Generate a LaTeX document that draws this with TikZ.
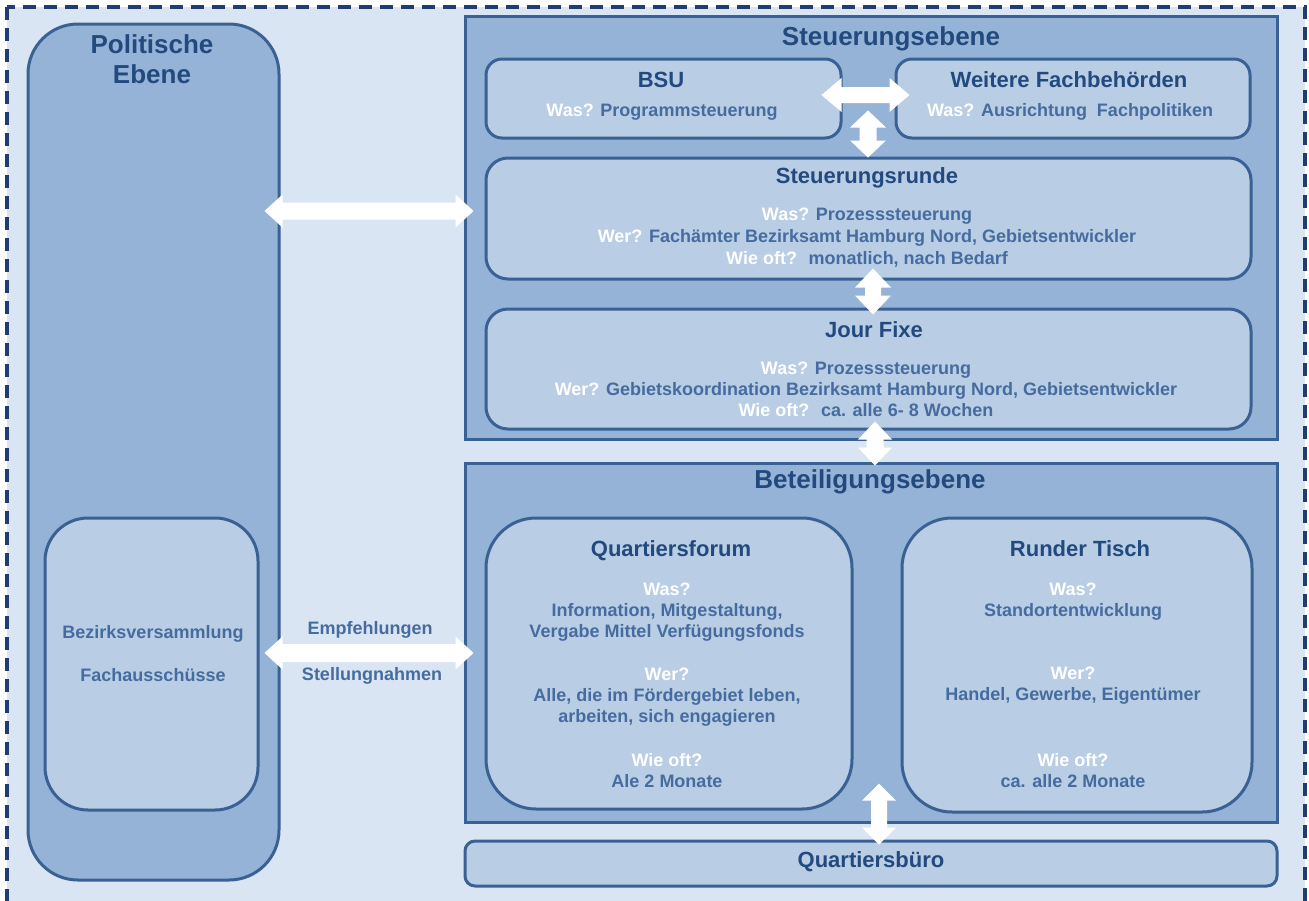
\documentclass[tikz,border=0pt]{standalone}
\usepackage{fontspec}
\setmainfont{Liberation Sans}
\usetikzlibrary{calc}
\definecolor{bgl}{HTML}{DAE5F3}
\definecolor{midb}{HTML}{95B3D7}
\definecolor{lightb}{HTML}{B9CDE5}
\definecolor{bordb}{HTML}{3A6194}
\definecolor{dashc}{HTML}{1F3D6E}
\definecolor{titlec}{HTML}{224A7E}
\definecolor{bodyc}{HTML}{466C9F}
\tikzset{
  outerbox/.style={draw=bordb, line width=3pt, fill=midb, inner sep=0pt},
  innerbox/.style={draw=bordb, line width=3pt, fill=lightb, inner sep=0pt},
  bigtitle/.style={font=\bfseries\fontsize{26}{30}\selectfont, text=titlec, inner sep=0pt, align=center},
  boxtitle/.style={font=\bfseries\fontsize{22}{25}\selectfont, text=titlec, inner sep=0pt, align=center},
  bodytxt/.style={font=\bfseries\fontsize{18}{21}\selectfont, text=bodyc, inner sep=0pt, align=center},
  blockarrow/.style={fill=white, draw=none},
}
\newcommand{\wq}[1]{\textcolor{white}{#1}}
% horizontal double block arrow: start, end, shaft half width, head half width, head length
\newcommand{\harrow}[5]{%
  \fill[blockarrow] (#1) -- ++(#5,#4) -- ++(0,#3-#4) -- ($(#2)+(-#5,#3)$) -- ++(0,#4-#3)
    -- (#2) -- ++(-#5,-#4) -- ++(0,#4-#3) -- ($(#1)+(#5,-#3)$) -- ++(0,#3-#4) -- cycle;}
% vertical double block arrow
\newcommand{\varrow}[5]{%
  \fill[blockarrow] (#1) -- ++(#4,#5) -- ++(#3-#4,0) -- ($(#2)+(#3,-#5)$) -- ++(#4-#3,0)
    -- (#2) -- ++(-#4,-#5) -- ++(#4-#3,0) -- ($(#1)+(-#3,#5)$) -- ++(#3-#4,0) -- cycle;}
\begin{document}
\begin{tikzpicture}[x=1pt,y=-1pt]
\useasboundingbox (0,0) rectangle (1309,900);
\clip (0,0) rectangle (1309,900);
\fill[white] (0,0) rectangle (1309,900);
% outer dashed frame
\draw[fill=bgl, draw=dashc, line width=4pt, dash pattern=on 13pt off 8pt] (7,7) rectangle (1305,960);

% Politische Ebene
\node[outerbox, rounded corners=50pt, minimum width=251pt, minimum height=856pt] (pol) at (153.5,452) {};
\node[bigtitle] (poltitle) at (152,59) {Politische\\Ebene};
\node[innerbox, rounded corners=43pt, minimum width=213pt, minimum height=292pt] (bez) at (151.5,664) {};
\node[bodytxt] (beztxt1) at (153,634) {Bezirksversammlung};
\node[bodytxt] (beztxt2) at (153,675) {Fachausschüsse};

% Steuerungsebene
\node[outerbox, minimum width=812pt, minimum height=423pt] (steu) at (871,227.5) {};
\node[bigtitle] (steutitle) at (891,39) {Steuerungsebene};
\node[innerbox, rounded corners=16pt, minimum width=355pt, minimum height=79pt] (bsu) at (663.5,98.5) {};
\node[boxtitle] (bsutitle) at (661,80) {BSU};
\node[bodytxt] (bsutxt) at (662,112) {\wq{Was?} Programmsteuerung};
\node[innerbox, rounded corners=16pt, minimum width=354pt, minimum height=79pt] (weit) at (1073,98.5) {};
\node[boxtitle] (weittitle) at (1069,80) {Weitere Fachbehörden};
\node[bodytxt] (weittxt) at (1070,112) {\wq{Was?} Ausrichtung~ Fachpolitiken};
\node[innerbox, rounded corners=22pt, minimum width=765pt, minimum height=121pt] (srunde) at (868.5,218.5) {};
\node[boxtitle] (sruntitle) at (867,178) {Steuerungsrunde};
\node[bodytxt, font=\bfseries\fontsize{18}{22}\selectfont] (sruntxt) at (867,238) {\wq{Was?} Prozesssteuerung\\
  \wq{Wer?} Fachämter Bezirksamt Hamburg Nord, Gebietsentwickler\\
  \wq{Wie oft?}~ monatlich, nach Bedarf};
\node[innerbox, rounded corners=22pt, minimum width=765pt, minimum height=120pt] (jour) at (868.5,369) {};
\node[boxtitle] (jourtitle) at (874,330) {Jour Fixe};
\node[bodytxt] (jourtxt) at (866,389) {\wq{Was?} Prozesssteuerung\\
  \wq{Wer?} Gebietskoordination Bezirksamt Hamburg Nord, Gebietsentwickler\\
  \wq{Wie oft?}~ ca. alle 6- 8 Wochen};

% Beteiligungsebene
\node[outerbox, minimum width=812pt, minimum height=359pt] (bet) at (871,642.5) {};
\node[bigtitle] (bettitle) at (870,482) {Beteiligungsebene};
\node[innerbox, rounded corners=50pt, minimum width=366pt, minimum height=291pt] (qf) at (669,663.5) {};
\node[boxtitle] (qftitle) at (671,551) {Quartiersforum};
\node[bodytxt] (qfwas) at (667,612.5) {\wq{Was?}\\Information, Mitgestaltung,\\Vergabe Mittel Verfügungsfonds};
\node[bodytxt] (qfwer) at (667,697) {\wq{Wer?}\\Alle, die im Fördergebiet leben,\\arbeiten, sich engagieren};
\node[bodytxt] (qfwie) at (667,771) {\wq{Wie oft?}\\Ale 2 Monate};
\node[innerbox, rounded corners=50pt, minimum width=350pt, minimum height=294pt] (rt) at (1077,665) {};
\node[boxtitle] (rttitle) at (1080,549) {Runder Tisch};
\node[bodytxt] (rtwas) at (1073,601.5) {\wq{Was?}\\Standortentwicklung};
\node[bodytxt] (rtwer) at (1073,686) {\wq{Wer?}\\Handel, Gewerbe, Eigentümer};
\node[bodytxt] (rtwie) at (1073,771) {\wq{Wie oft?}\\ca. alle 2 Monate};

% Quartiersbuero
\node[innerbox, rounded corners=10pt, minimum width=812pt, minimum height=45pt] (qb) at (871,863.5) {};
\node[boxtitle] (qbtitle) at (871,862) {Quartiersbüro};

% labels
\node[bodytxt] (empf) at (370,630) {Empfehlungen};
\node[bodytxt] (stell) at (372,676) {Stellungnahmen};

% arrow end points, relative to the nodes they join
\coordinate (a1s) at ([xshift=-21pt,yshift=3.5pt]bsu.east);
\coordinate (a1e) at ([xshift=15pt,yshift=3.5pt]weit.west);
\coordinate (a2s) at ([yshift=29pt]bsu.south -| 868,0);
\coordinate (a2e) at ([yshift=-1pt]srunde.north -| 868,0);
\coordinate (a3s) at ([xshift=-16pt]pol.east |- 0,211);
\coordinate (a3e) at ([xshift=10pt]steu.west |- 0,211);
\coordinate (a4s) at ([yshift=12pt]srunde.south -| 873,0);
\coordinate (a4e) at ([yshift=-7pt]jour.north -| 873,0);
\coordinate (a5s) at ([yshift=9pt]jour.south -| 875,0);
\coordinate (a5e) at ([yshift=-4pt]bet.north -| 875,0);
\coordinate (a6s) at ([xshift=-16pt]pol.east |- 0,653);
\coordinate (a6e) at ([xshift=-11pt]qf.west |- 0,653);
\coordinate (a7s) at ([yshift=40pt]bet.south -| 879,0);
\coordinate (a7e) at ([yshift=-5pt]qb.north -| 879,0);

% arrows
\harrow{a1s}{a1e}{8}{17}{20}
\varrow{a2s}{a2e}{8.5}{18}{17}
\harrow{a3s}{a3e}{8.5}{16.5}{18}
\varrow{a4s}{a4e}{8}{18}{19}
\varrow{a5s}{a5e}{8.5}{17}{18}
\harrow{a6s}{a6e}{9}{16.5}{18}
\varrow{a7s}{a7e}{8}{17}{17}
\end{tikzpicture}
\end{document}
